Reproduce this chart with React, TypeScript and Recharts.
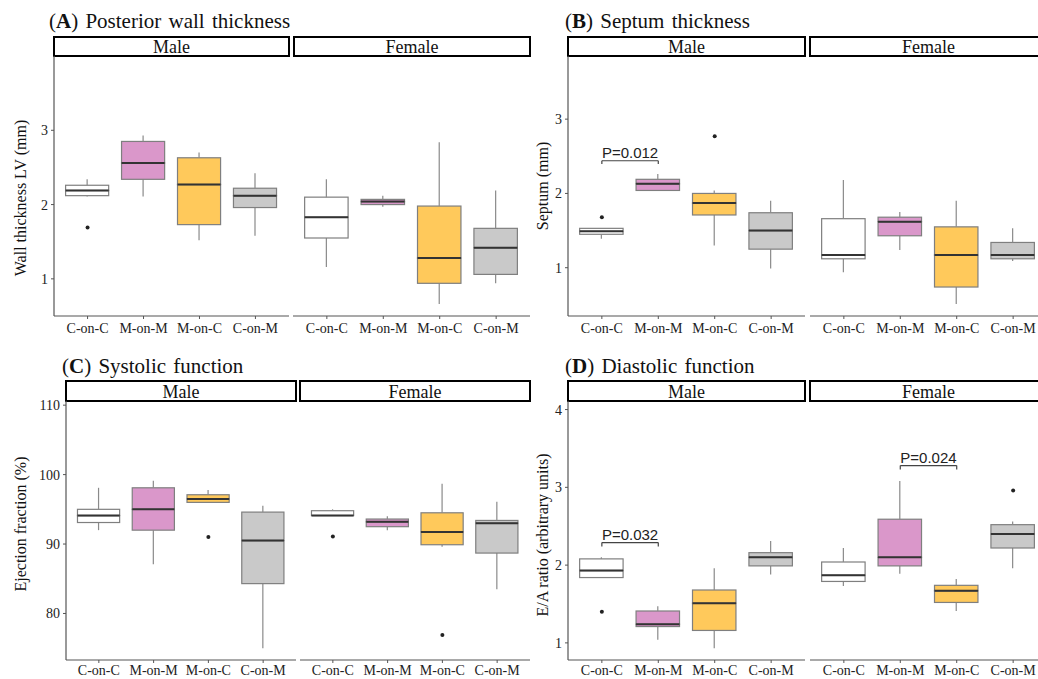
import React from 'react';
import { ComposedChart, Bar, Scatter, XAxis, YAxis, ReferenceLine } from 'recharts';

const serif = '"Liberation Serif", "Times New Roman", serif';
const sans = '"Liberation Sans", Arial, sans-serif';

const groups = ['C-on-C', 'M-on-M', 'M-on-C', 'C-on-M'];
const fills = ['#FFFFFF', '#DA97CA', '#FFC95B', '#C9C9C9'];

// each row: [min, q1, median, q3, max]
const wallMale = [
  [2.11, 2.12, 2.19, 2.26, 2.34],
  [2.11, 2.34, 2.56, 2.85, 2.93],
  [1.52, 1.73, 2.27, 2.63, 2.7],
  [1.58, 1.96, 2.12, 2.22, 2.42],
];
const wallMaleOut = [1.69, null, null, null];
const wallFemale = [
  [1.16, 1.55, 1.83, 2.1, 2.34],
  [1.97, 2.0, 2.04, 2.07, 2.12],
  [0.66, 0.94, 1.28, 1.98, 2.84],
  [0.94, 1.06, 1.42, 1.68, 2.19],
];
const wallFemaleOut = [null, null, null, null];

const septumMale = [
  [1.39, 1.45, 1.49, 1.53, 1.53],
  [2.04, 2.04, 2.13, 2.19, 2.26],
  [1.3, 1.71, 1.87, 2.0, 2.04],
  [0.99, 1.25, 1.5, 1.74, 1.9],
];
const septumMaleOut = [1.68, null, 2.77, null];
const septumFemale = [
  [0.94, 1.12, 1.17, 1.66, 2.18],
  [1.24, 1.43, 1.62, 1.68, 1.75],
  [0.51, 0.74, 1.17, 1.55, 1.9],
  [1.09, 1.12, 1.17, 1.34, 1.53],
];
const septumFemaleOut = [null, null, null, null];

const efMale = [
  [92.0, 93.1, 94.1, 95.0, 98.1],
  [87.1, 92.0, 95.0, 98.1, 99.1],
  [96.0, 96.0, 96.5, 97.1, 97.8],
  [75.0, 84.3, 90.5, 94.6, 95.5],
];
const efMaleOut = [null, null, 91.0, null];
const efFemale = [
  [94.1, 94.1, 94.1, 94.8, 95.0],
  [92.0, 92.5, 93.2, 93.6, 94.0],
  [89.6, 89.9, 91.75, 94.5, 98.7],
  [83.5, 88.7, 93.0, 93.4, 96.1],
];
const efFemaleOut = [91.1, null, 76.9, null];

const eaMale = [
  [1.84, 1.84, 1.93, 2.08, 2.1],
  [1.04, 1.21, 1.24, 1.41, 1.47],
  [0.93, 1.16, 1.51, 1.68, 1.96],
  [1.88, 1.99, 2.1, 2.16, 2.31],
];
const eaMaleOut = [1.4, null, null, null];
const eaFemale = [
  [1.73, 1.79, 1.87, 2.04, 2.22],
  [1.89, 1.99, 2.1, 2.59, 3.08],
  [1.41, 1.52, 1.67, 1.74, 1.82],
  [1.96, 2.22, 2.4, 2.52, 2.56],
];
const eaFemaleOut = [null, null, null, 2.96];

const makeRows = (stats: number[][], outs: (number | null)[]) =>
  groups.map((g, i) => {
    const [lo, q1, md, q3, hi] = stats[i];
    return {
      g,
      base: lo,
      wLo: q1 - lo,
      bLo: md - q1,
      bHi: q3 - md,
      wHi: hi - q3,
      out: outs[i],
      fill: fills[i],
    };
  });

const Empty = () => <g />;

const Whisker = (p: any) => {
  const cx = p.x + p.width / 2;
  const y = Math.min(p.y, p.y + p.height);
  return <line x1={cx} x2={cx} y1={y} y2={y + Math.abs(p.height)} stroke="#8a8a8a" strokeWidth={1.2} />;
};

const BoxLo = (p: any) => {
  const y = Math.min(p.y, p.y + p.height);
  return (
    <rect x={p.x} y={y} width={p.width} height={Math.abs(p.height)} fill={p.payload.fill} stroke="#7f7f7f" strokeWidth={1.2} />
  );
};

const BoxHi = (p: any) => {
  const y = Math.min(p.y, p.y + p.height);
  const h = Math.abs(p.height);
  return (
    <g>
      <rect x={p.x} y={y} width={p.width} height={h} fill={p.payload.fill} stroke="#7f7f7f" strokeWidth={1.2} />
      <line x1={p.x} x2={p.x + p.width} y1={y + h} y2={y + h} stroke="#333" strokeWidth={2} />
    </g>
  );
};

const Outlier = (p: any) =>
  p.payload.out == null ? <g /> : <circle cx={p.cx} cy={p.cy} r={2} fill="#222" />;

type Bracket = { from: string; to: string; y: number; drop: number; text: string };

type FacetProps = {
  left: number;
  top: number;
  width: number;
  height: number;
  domain: [number, number];
  ticks: number[];
  rows: any[];
  showAxis: boolean;
  tickGap?: number;
  brackets?: Bracket[];
};

const Facet = ({ left, top, width, height, domain, ticks, rows, showAxis, tickGap = 4, brackets = [] }: FacetProps) => {
  const yw = showAxis ? 40 : 0;
  const mTop = 12;
  const xh = 32;
  const pad = (width * 0.1) / 4.2;
  const band = width / 4.2;
  return (
    <div style={{ position: 'absolute', left: left - yw, top: top - mTop }}>
      <ComposedChart
        width={yw + width}
        height={mTop + height + xh}
        data={rows}
        margin={{ top: mTop, right: 0, bottom: 0, left: 0 }}
      >
        <XAxis
          dataKey="g"
          type="category"
          interval={0}
          height={xh}
          padding={{ left: pad, right: pad }}
          tickSize={3}
          tickMargin={tickGap}
          axisLine={{ stroke: '#555', strokeWidth: 1.2 }}
          tickLine={{ stroke: '#555' }}
          tick={{ fontSize: 14, fill: '#222', fontFamily: serif }}
        />
        <YAxis
          type="number"
          domain={domain}
          ticks={ticks}
          allowDataOverflow
          hide={!showAxis}
          width={yw}
          tickSize={3}
          tickMargin={3}
          axisLine={{ stroke: '#555', strokeWidth: 1.2 }}
          tickLine={{ stroke: '#555' }}
          tick={{ fontSize: 14, fill: '#222', fontFamily: serif }}
        />
        <Bar dataKey="base" stackId="s" barSize={band * 0.77} shape={Empty} isAnimationActive={false} />
        <Bar dataKey="wLo" stackId="s" barSize={band * 0.77} shape={Whisker} isAnimationActive={false} />
        <Bar dataKey="bLo" stackId="s" barSize={band * 0.77} shape={BoxLo} isAnimationActive={false} />
        <Bar dataKey="bHi" stackId="s" barSize={band * 0.77} shape={BoxHi} isAnimationActive={false} />
        <Bar dataKey="wHi" stackId="s" barSize={band * 0.77} shape={Whisker} isAnimationActive={false} />
        <Scatter dataKey="out" shape={Outlier} isAnimationActive={false} />
        {brackets.map((b) => (
          <ReferenceLine
            key={b.text}
            segment={[
              { x: b.from, y: b.y },
              { x: b.to, y: b.y },
            ]}
            stroke="#444"
            strokeWidth={1.2}
            label={{ value: b.text, position: 'top', offset: 3, fontSize: 15, fill: '#222', fontFamily: sans }}
          />
        ))}
        {brackets.map((b) => (
          <ReferenceLine
            key={b.text + 'a'}
            segment={[
              { x: b.from, y: b.y },
              { x: b.from, y: b.drop },
            ]}
            stroke="#444"
            strokeWidth={1.2}
          />
        ))}
        {brackets.map((b) => (
          <ReferenceLine
            key={b.text + 'b'}
            segment={[
              { x: b.to, y: b.y },
              { x: b.to, y: b.drop },
            ]}
            stroke="#444"
            strokeWidth={1.2}
          />
        ))}
      </ComposedChart>
    </div>
  );
};

const Strip = ({ x, y, w, h, text }: { x: number; y: number; w: number; h: number; text: string }) => (
  <g>
    <rect x={x} y={y} width={w} height={h} fill="#fff" stroke="#000" strokeWidth={2} />
    <text x={x + w / 2} y={y + h - 3.5} textAnchor="middle" fontSize={18} fontFamily={serif} fill="#111">
      {text}
    </text>
  </g>
);

const Title = ({ x, y, letter, text }: { x: number; y: number; letter: string; text: string }) => (
  <text x={x} y={y} fontSize={21} fontFamily={serif} fill="#111" style={{ wordSpacing: 2 }}>
    (<tspan fontWeight="bold">{letter}</tspan>) {text}
  </text>
);

const YTitle = ({ x, y, text }: { x: number; y: number; text: string }) => (
  <text
    x={x}
    y={y}
    transform={`rotate(-90 ${x} ${y})`}
    textAnchor="middle"
    fontSize={16}
    fontFamily={serif}
    fill="#111"
  >
    {text}
  </text>
);

const App = () => {
  return (
    <div
      style={{
        position: 'absolute',
        left: 0,
        top: 0,
        width: 1038,
        height: 679,
        overflow: 'hidden',
        background: '#fff',
      }}
    >
      <svg width={1038} height={679} style={{ position: 'absolute', left: 0, top: 0 }}>
        <Title x={49} y={28} letter="A" text="Posterior wall thickness" />
        <Title x={565} y={28} letter="B" text="Septum thickness" />
        <Title x={62} y={373} letter="C" text="Systolic function" />
        <Title x={565} y={373} letter="D" text="Diastolic function" />

        <Strip x={54} y={37} w={235} h={19} text="Male" />
        <Strip x={294} y={37} w={236} h={19} text="Female" />
        <Strip x={568} y={37} w={237} h={19} text="Male" />
        <Strip x={810} y={37} w={237} h={19} text="Female" />
        <Strip x={66} y={381} w={230} h={20} text="Male" />
        <Strip x={300} y={381} w={230} h={20} text="Female" />
        <Strip x={568} y={381} w={237} h={20} text="Male" />
        <Strip x={810} y={381} w={237} h={20} text="Female" />

        <YTitle x={26} y={198} text="Wall thickness LV (mm)" />
        <YTitle x={548} y={186} text="Septum (mm)" />
        <YTitle x={26} y={524} text="Ejection fraction (%)" />
        <YTitle x={548} y={535} text="E/A ratio (arbitrary units)" />
      </svg>

      <Facet left={54} top={56} width={235} height={260} domain={[0.5, 4.0]} ticks={[1, 2, 3]} rows={makeRows(wallMale, wallMaleOut)} showAxis />
      <Facet left={293} top={56} width={237} height={260} domain={[0.5, 4.0]} ticks={[1, 2, 3]} rows={makeRows(wallFemale, wallFemaleOut)} showAxis={false} />

      <Facet
        left={568}
        top={56}
        width={237}
        height={260}
        domain={[0.35, 3.85]}
        ticks={[1, 2, 3]}
        rows={makeRows(septumMale, septumMaleOut)}
        showAxis
        brackets={[{ from: 'C-on-C', to: 'M-on-M', y: 2.44, drop: 2.395, text: 'P=0.012' }]}
      />
      <Facet left={810} top={56} width={237} height={260} domain={[0.35, 3.85]} ticks={[1, 2, 3]} rows={makeRows(septumFemale, septumFemaleOut)} showAxis={false} />

      <Facet left={66} top={401} width={230} height={259} domain={[73.3, 110.6]} ticks={[80, 90, 100, 110]} rows={makeRows(efMale, efMaleOut)} showAxis tickGap={2} />
      <Facet left={300} top={401} width={230} height={259} domain={[73.3, 110.6]} ticks={[80, 90, 100, 110]} rows={makeRows(efFemale, efFemaleOut)} showAxis={false} tickGap={2} />

      <Facet
        left={568}
        top={401}
        width={237}
        height={259}
        domain={[0.78, 4.11]}
        ticks={[1, 2, 3, 4]}
        rows={makeRows(eaMale, eaMaleOut)}
        showAxis
        tickGap={2}
        brackets={[{ from: 'C-on-C', to: 'M-on-M', y: 2.29, drop: 2.24, text: 'P=0.032' }]}
      />
      <Facet
        left={810}
        top={401}
        width={237}
        height={259}
        domain={[0.78, 4.11]}
        ticks={[1, 2, 3, 4]}
        rows={makeRows(eaFemale, eaFemaleOut)}
        showAxis={false}
        tickGap={2}
        brackets={[{ from: 'M-on-M', to: 'M-on-C', y: 3.28, drop: 3.23, text: 'P=0.024' }]}
      />
    </div>
  );
};

export default App;
